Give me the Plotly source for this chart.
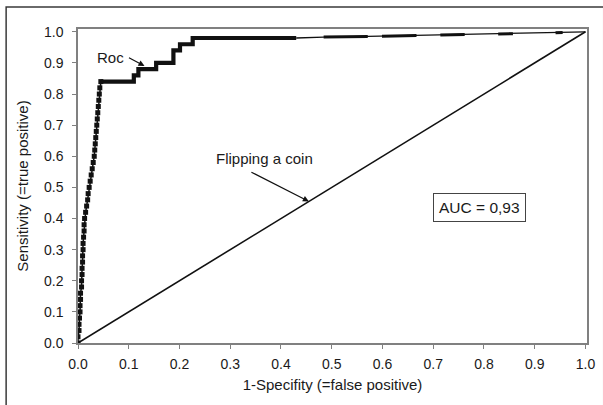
import plotly.graph_objects as go

# ---- data ----
# steep rising part of the ROC curve (points with square markers)
rise_fpr = [0.000, 0.000, 0.002, 0.002, 0.003, 0.004, 0.004, 0.005, 0.005, 0.007, 0.007,
            0.008, 0.008, 0.009, 0.009, 0.010, 0.010, 0.011, 0.012, 0.012, 0.013, 0.015,
            0.017, 0.019, 0.020, 0.022, 0.024, 0.026, 0.028, 0.030, 0.032, 0.033, 0.034,
            0.035, 0.036, 0.037, 0.038, 0.039, 0.040, 0.041, 0.042, 0.043, 0.045]
rise_tpr = [0.00, 0.02, 0.04, 0.06, 0.08, 0.10, 0.12, 0.14, 0.16, 0.18, 0.20,
            0.22, 0.24, 0.26, 0.28, 0.30, 0.32, 0.34, 0.36, 0.38, 0.40, 0.42,
            0.44, 0.46, 0.48, 0.50, 0.52, 0.54, 0.56, 0.58, 0.60, 0.62, 0.64,
            0.66, 0.68, 0.70, 0.72, 0.74, 0.76, 0.78, 0.80, 0.82, 0.84]

# staircase part (densely marked -> thick)
step_fpr = [0.045, 0.110, 0.110, 0.119, 0.119, 0.154, 0.154, 0.188, 0.188, 0.201, 0.201, 0.226, 0.226, 0.430]
step_tpr = [0.84, 0.84, 0.86, 0.86, 0.88, 0.88, 0.90, 0.90, 0.94, 0.94, 0.96, 0.96, 0.98, 0.98]

# flat tail towards (1,1)
tail_fpr = [0.430, 0.484, 0.571, 0.599, 0.667, 0.714, 0.762, 0.828, 0.857, 0.941, 0.955, 1.000]
tail_tpr = [0.980, 0.983, 0.985, 0.986, 0.988, 0.990, 0.991, 0.993, 0.994, 0.997, 0.998, 1.000]

# dense-marker clusters on the tail (None separates clusters)
dense_fpr = [0.484, 0.571, None, 0.599, 0.667, None, 0.714, 0.762, None, 0.828, 0.857, None, 0.941, 0.955]
dense_tpr = [0.983, 0.985, None, 0.986, 0.988, None, 0.990, 0.991, None, 0.993, 0.994, None, 0.997, 0.998]

# chance line
coin_x = [0.0, 1.0]
coin_y = [0.0, 1.0]

tick_vals = [0.0, 0.1, 0.2, 0.3, 0.4, 0.5, 0.6, 0.7, 0.8, 0.9, 1.0]
tick_text = ["0.0", "0.1", "0.2", "0.3", "0.4", "0.5", "0.6", "0.7", "0.8", "0.9", "1.0"]

FONT = "Liberation Sans, Arial, sans-serif"
TXT = "#1a1a1a"
AX = "#808080"

fig = go.Figure()
fig.add_trace(go.Scatter(x=coin_x, y=coin_y, mode="lines",
                         line=dict(color="#111", width=1.6), hoverinfo="skip"))
fig.add_trace(go.Scatter(x=tail_fpr, y=tail_tpr, mode="lines",
                         line=dict(color="#111", width=1.3), hoverinfo="skip"))
fig.add_trace(go.Scatter(x=dense_fpr, y=dense_tpr, mode="lines",
                         line=dict(color="#111", width=3), hoverinfo="skip"))
fig.add_trace(go.Scatter(x=step_fpr, y=step_tpr, mode="lines",
                         line=dict(color="#111", width=4.2), hoverinfo="skip"))
fig.add_trace(go.Scatter(x=rise_fpr, y=rise_tpr, mode="lines+markers",
                         line=dict(color="#111", width=1.5),
                         marker=dict(symbol="square", size=5, color="#111"),
                         hoverinfo="skip"))

# plot area: x 78..595 px, y 29..343 px
L, R, T, B = 78, 8, 29, 62
W, H = 603, 405
pw, ph = W - L - R, H - T - B

def px(xp):
    return (xp - L) / pw

def py(yp):
    return (H - B - yp) / ph

# outer frame
fig.add_shape(type="rect", xref="paper", yref="paper",
              x0=px(5), x1=px(612), y0=py(412), y1=py(7),
              line=dict(color="#3a3a3a", width=1.5), layer="below")

axis_common = dict(showgrid=False, zeroline=False, showline=True, mirror=True,
                   linecolor=AX, linewidth=1.5, ticks="outside", ticklen=4,
                   tickcolor=AX, tickwidth=1, tickvals=tick_vals, ticktext=tick_text,
                   tickfont=dict(family=FONT, size=14, color=TXT))

fig.update_layout(
    width=W, height=H,
    margin=dict(l=L, r=R, t=T, b=B),
    paper_bgcolor="white", plot_bgcolor="white",
    showlegend=False,
    xaxis=dict(range=[0, 1.003], ticklabelstandoff=3,
               title=dict(text="1-Specifity (=false positive)", standoff=9,
                          font=dict(family=FONT, size=15, color=TXT)),
               **axis_common),
    yaxis=dict(range=[0, 1.009], ticklabelstandoff=6,
               title=dict(text="Sensitivity (=true positive)", standoff=12,
                          font=dict(family=FONT, size=15, color=TXT)),
               **axis_common),
)

# texts and arrows
fig.add_annotation(x=0.064, y=0.918, xref="x", yref="y", text="Roc", showarrow=False,
                   font=dict(family=FONT, size=15, color=TXT))
fig.add_annotation(x=0.131, y=0.890, xref="x", yref="y", text="", showarrow=True,
                   ax=-17, ay=-9, arrowhead=2, arrowsize=1, arrowwidth=1.2, arrowcolor="#111")
fig.add_annotation(x=0.367, y=0.594, xref="x", yref="y", text="Flipping a coin", showarrow=False,
                   font=dict(family=FONT, size=15, color=TXT))
fig.add_annotation(x=0.455, y=0.455, xref="x", yref="y", text="", showarrow=True,
                   ax=-59, ay=-30, arrowhead=2, arrowsize=1, arrowwidth=1.2, arrowcolor="#111")
fig.add_annotation(x=0.791, y=0.436, xref="x", yref="y", text="AUC = 0,93", showarrow=False,
                   font=dict(family=FONT, size=15.5, color=TXT),
                   bordercolor="#444", borderwidth=1, borderpad=5, bgcolor="white")

fig.write_html("out.html", config={"displayModeBar": False},
               post_script="document.body.style.margin='0';document.body.style.overflow='hidden';")
